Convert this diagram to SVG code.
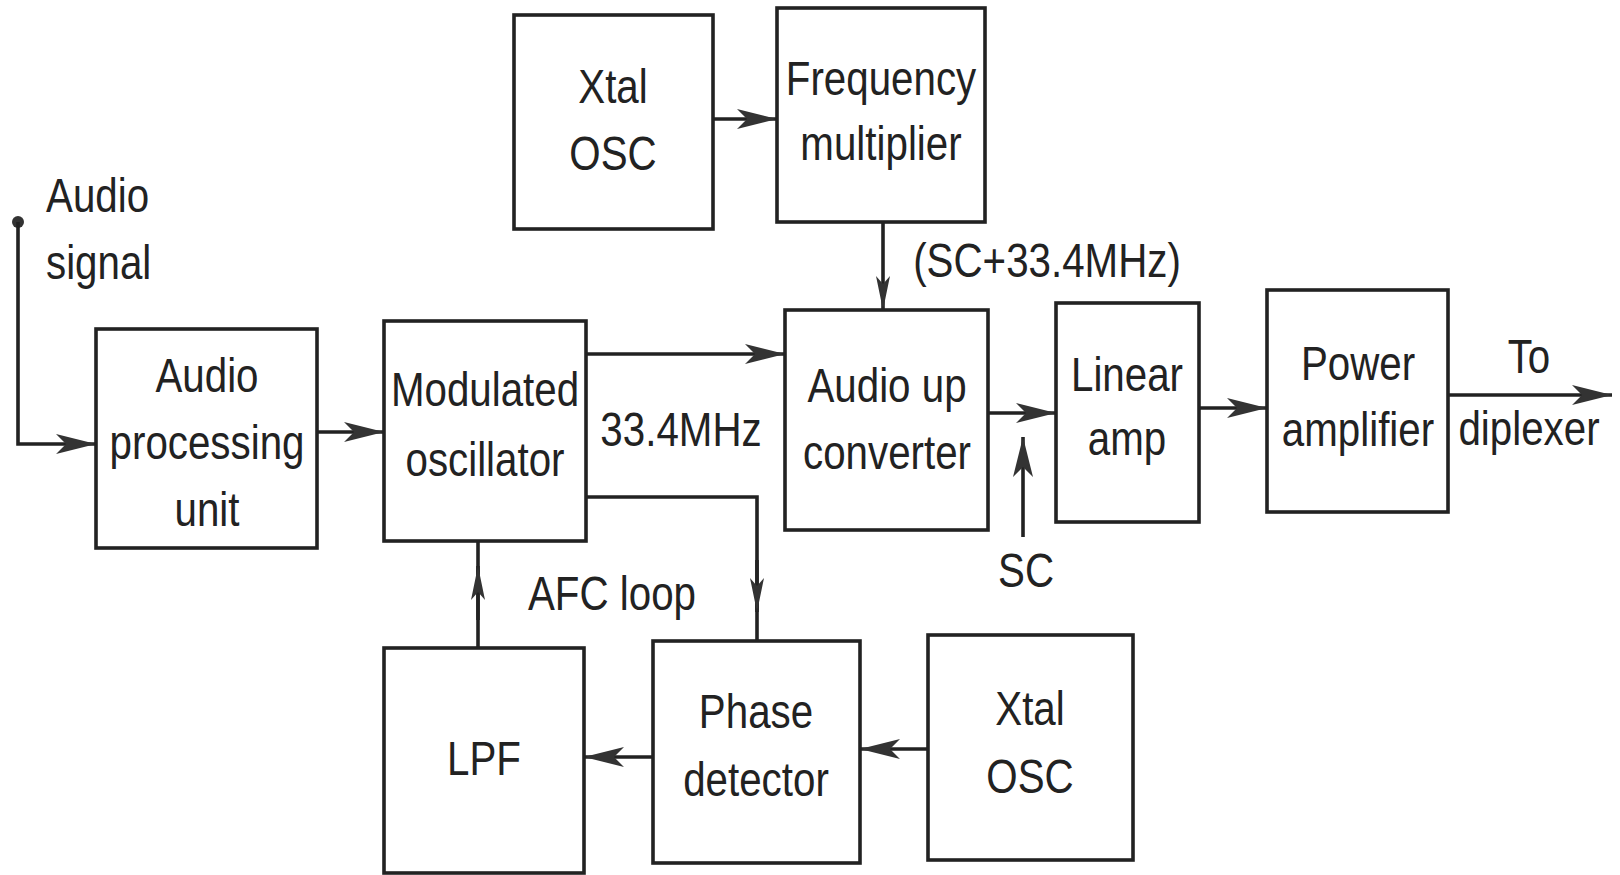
<svg xmlns="http://www.w3.org/2000/svg" width="1620" height="875" viewBox="0 0 1620 875">
<defs>
<style>
.box{fill:#fff;stroke:#222;stroke-width:3.6}
.ln{fill:none;stroke:#222;stroke-width:3.6}
text{font-family:"Liberation Sans",Arial,sans-serif;font-size:48px;fill:#222}
.c{text-anchor:middle}
</style>
<marker id="arr" markerUnits="userSpaceOnUse" markerWidth="42" markerHeight="24" refX="40" refY="11" orient="auto">
<path d="M0,1 L40,11 L0,21 L10,11 z" fill="#333"/>
</marker>
<marker id="arrs" markerUnits="userSpaceOnUse" markerWidth="36" markerHeight="18" refX="34" refY="8" orient="auto">
<path d="M0,1 L34,8 L0,15 L8,8 z" fill="#333"/>
</marker>
</defs>
<rect width="1620" height="875" fill="#fff"/>

<g id="connectors">
<circle cx="18" cy="222" r="6" fill="#333"/>
<path class="ln" d="M18,222 V444 H96" marker-end="url(#arr)"/>
<path class="ln" d="M317,432 H384" marker-end="url(#arr)"/>
<path class="ln" d="M586,354 H785" marker-end="url(#arr)"/>
<path class="ln" d="M713,119 H777" marker-end="url(#arr)"/>
<path class="ln" d="M883,222 V310" marker-end="url(#arrs)"/>
<path class="ln" d="M586,497 H757 V641"/>
<path class="ln" d="M757,560 V612" marker-end="url(#arrs)"/>
<path class="ln" d="M478,648 V542"/>
<path class="ln" d="M478,620 V566" marker-end="url(#arrs)"/>
<path class="ln" d="M988,413 H1056" marker-end="url(#arr)"/>
<path class="ln" d="M1023,537 V437" marker-end="url(#arr)"/>
<path class="ln" d="M1199,408 H1267" marker-end="url(#arr)"/>
<path class="ln" d="M1448,395 H1612" marker-end="url(#arr)"/>
<path class="ln" d="M653,757 H584" marker-end="url(#arr)"/>
<path class="ln" d="M928,749 H860" marker-end="url(#arr)"/>
</g>

<g id="labels">
<text transform="translate(46,0) scale(0.84,1)"><tspan x="0" y="212">Audio</tspan><tspan x="0" y="279">signal</tspan></text>
<text class="c" transform="translate(1047,0) scale(0.84,1)" y="277">(SC+33.4MHz)</text>
<text class="c" transform="translate(681,0) scale(0.84,1)" y="446">33.4MHz</text>
<text class="c" transform="translate(612,0) scale(0.84,1)" y="610">AFC loop</text>
<text class="c" transform="translate(1026,0) scale(0.84,1)" y="587">SC</text>
<text class="c" transform="translate(1529,0) scale(0.84,1)"><tspan x="0" y="373">To</tspan><tspan x="0" y="445">diplexer</tspan></text>
</g>

<g id="audio-processing-unit">
<rect class="box" x="96" y="329" width="221" height="219"/>
<text class="c" transform="translate(207,0) scale(0.84,1)"><tspan x="0" y="392">Audio</tspan><tspan x="0" y="459">processing</tspan><tspan x="0" y="526">unit</tspan></text>
</g>

<g id="modulated-oscillator">
<rect class="box" x="384" y="321" width="202" height="220"/>
<text class="c" transform="translate(485,0) scale(0.84,1)"><tspan x="0" y="406">Modulated</tspan><tspan x="0" y="476">oscillator</tspan></text>
</g>

<g id="xtal-osc-top">
<rect class="box" x="514" y="15" width="199" height="214"/>
<text class="c" transform="translate(613,0) scale(0.84,1)"><tspan x="0" y="103">Xtal</tspan><tspan x="0" y="170">OSC</tspan></text>
</g>

<g id="frequency-multiplier">
<rect class="box" x="777" y="8" width="208" height="214"/>
<text class="c" transform="translate(881,0) scale(0.84,1)"><tspan x="0" y="95">Frequency</tspan><tspan x="0" y="160">multiplier</tspan></text>
</g>

<g id="audio-up-converter">
<rect class="box" x="785" y="310" width="203" height="220"/>
<text class="c" transform="translate(887,0) scale(0.84,1)"><tspan x="0" y="402">Audio up</tspan><tspan x="0" y="469">converter</tspan></text>
</g>

<g id="linear-amp">
<rect class="box" x="1056" y="303" width="143" height="219"/>
<text class="c" transform="translate(1127,0) scale(0.84,1)"><tspan x="0" y="391">Linear</tspan><tspan x="0" y="455">amp</tspan></text>
</g>

<g id="power-amplifier">
<rect class="box" x="1267" y="290" width="181" height="222"/>
<text class="c" transform="translate(1358,0) scale(0.84,1)"><tspan x="0" y="380">Power</tspan><tspan x="0" y="446">amplifier</tspan></text>
</g>

<g id="lpf">
<rect class="box" x="384" y="648" width="200" height="225"/>
<text class="c" transform="translate(484,0) scale(0.84,1)" y="775">LPF</text>
</g>

<g id="phase-detector">
<rect class="box" x="653" y="641" width="207" height="222"/>
<text class="c" transform="translate(756,0) scale(0.84,1)"><tspan x="0" y="728">Phase</tspan><tspan x="0" y="796">detector</tspan></text>
</g>

<g id="xtal-osc-bottom">
<rect class="box" x="928" y="635" width="205" height="225"/>
<text class="c" transform="translate(1030,0) scale(0.84,1)"><tspan x="0" y="725">Xtal</tspan><tspan x="0" y="793">OSC</tspan></text>
</g>
</svg>
